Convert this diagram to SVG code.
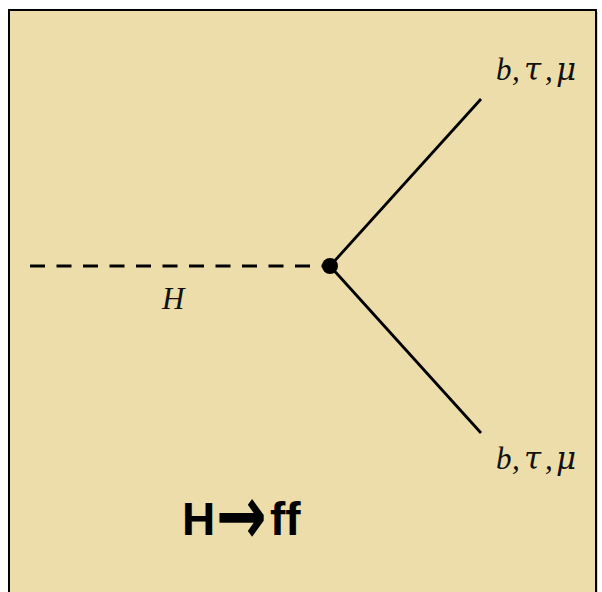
<svg xmlns="http://www.w3.org/2000/svg" width="602" height="592" viewBox="0 0 602 592">
<style>
.math{font-family:"Liberation Serif","DejaVu Serif",serif;font-style:italic;font-size:31px;fill:#111}
.gk{font-family:"DejaVu Serif",serif;font-size:31px}
.line{stroke:#000;stroke-width:2.8;fill:none}
.title{font-family:"Liberation Sans","DejaVu Sans",sans-serif;font-weight:bold;font-size:46px;fill:#000}
</style>
<rect x="0" y="0" width="602" height="592" fill="#ffffff"/>
<rect x="11" y="12" width="587" height="590" fill="#8a8a8a" opacity="0.35"/>
<rect x="9" y="10" width="587" height="590" fill="#EDDDAB" stroke="#000" stroke-width="2"/>
<g id="connectors">
<line class="line" x1="30" y1="266" x2="330" y2="266" stroke-width="3" stroke-dasharray="15 11.5"/>
<line class="line" x1="330" y1="266" x2="481" y2="99"/>
<line class="line" x1="330" y1="266" x2="481" y2="433"/>
</g>
<g id="vertex"><circle cx="330" cy="266" r="8" fill="#000"/></g>
<g id="label-H"><text class="math" x="162" y="309" font-size="33">H</text></g>
<g id="label-top"><text class="math" y="80"><tspan x="496">b</tspan><tspan x="512">,</tspan><tspan x="524" class="gk">τ</tspan><tspan x="545">,</tspan><tspan x="556" class="gk">μ</tspan></text></g>
<g id="label-bottom"><text class="math" y="469"><tspan x="496">b</tspan><tspan x="512">,</tspan><tspan x="524" class="gk">τ</tspan><tspan x="545">,</tspan><tspan x="556" class="gk">μ</tspan></text></g>
<g id="title"><text class="title" y="535"><tspan x="182">H</tspan><tspan x="270">ff</tspan></text>
<text transform="translate(216,544) scale(0.72,1)" font-family="DejaVu Sans" font-weight="bold" font-size="84" fill="#000">→</text></g>
</svg>
